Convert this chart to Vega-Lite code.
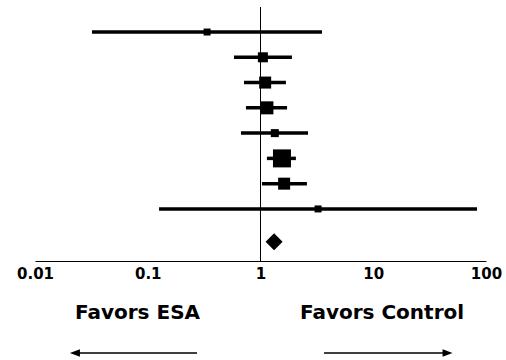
{
  "$schema": "https://vega.github.io/schema/vega-lite/v6.json",
  "autosize": {"type": "none"},
  "width": 451,
  "height": 254,
  "padding": {"left": 35, "top": 7, "right": 20, "bottom": 99},
  "background": "white",
  "config": {
    "view": {"stroke": null},
    "axis": {
      "domainColor": "black",
      "domainWidth": 1,
      "ticks": false,
      "grid": false,
      "labelFont": "DejaVu Sans",
      "labelFontWeight": "bold",
      "labelFontSize": 15,
      "labelColor": "black",
      "labelPadding": 5,
      "labelFlush": false,
      "labelOverlap": false,
      "labelBound": false
    }
  },
  "datasets": {
    "studies": [
      {"row": 1, "est": 0.336, "lo": 0.032, "hi": 3.51, "box": 49},
      {"row": 2, "est": 1.05, "lo": 0.582, "hi": 1.9, "box": 100},
      {"row": 3, "est": 1.1, "lo": 0.714, "hi": 1.68, "box": 144},
      {"row": 4, "est": 1.14, "lo": 0.743, "hi": 1.72, "box": 169},
      {"row": 5, "est": 1.34, "lo": 0.671, "hi": 2.64, "box": 64},
      {"row": 6, "est": 1.55, "lo": 1.14, "hi": 2.06, "box": 324},
      {"row": 7, "est": 1.62, "lo": 1.03, "hi": 2.58, "box": 144},
      {"row": 8, "est": 3.24, "lo": 0.126, "hi": 83.2, "box": 49}
    ],
    "pooled": [{"row": 9.3, "est": 1.32, "lo": 1.12, "hi": 1.58}],
    "labels": [
      {"x": 0.0811, "row": 12.11, "label": "Favors ESA"},
      {"x": 11.96, "row": 12.11, "label": "Favors Control"}
    ],
    "arrows": [
      {"from": 0.2735, "to": 0.0226, "row": 13.7, "dir": "left"},
      {"from": 3.66, "to": 45.6, "row": 13.7, "dir": "right"}
    ]
  },
  "layer": [
    {
      "data": {"values": [{"ref": 1}]},
      "mark": {"type": "rule", "color": "black", "strokeWidth": 1},
      "encoding": {
        "x": {"field": "ref", "type": "quantitative", "scale": {"type": "log", "domain": [0.01, 100]}, "axis": {"values": [0.01, 0.1, 1, 10, 100], "format": "~g", "title": null}}
      }
    },
    {
      "data": {"name": "studies"},
      "mark": {"type": "rule", "color": "black", "strokeWidth": 3.5},
      "encoding": {
        "x": {"field": "lo", "type": "quantitative", "scale": {"type": "log", "domain": [0.01, 100]}, "axis": {"values": [0.01, 0.1, 1, 10, 100], "format": "~g", "title": null}},
        "x2": {"field": "hi"},
        "y": {"field": "row", "type": "quantitative", "scale": {"domain": [0.01, 10.06], "reverse": true, "nice": false, "zero": false}, "axis": null}
      }
    },
    {
      "data": {"name": "studies"},
      "mark": {"type": "point", "shape": "square", "filled": true, "color": "black", "opacity": 1},
      "encoding": {
        "x": {"field": "est", "type": "quantitative", "scale": {"type": "log", "domain": [0.01, 100]}, "axis": {"values": [0.01, 0.1, 1, 10, 100], "format": "~g", "title": null}},
        "y": {"field": "row", "type": "quantitative", "scale": {"domain": [0.01, 10.06], "reverse": true, "nice": false, "zero": false}, "axis": null},
        "size": {"field": "box", "type": "quantitative", "scale": null, "legend": null}
      }
    },
    {
      "data": {"name": "pooled"},
      "mark": {"type": "point", "shape": "diamond", "filled": true, "color": "black", "opacity": 1, "size": 289},
      "encoding": {
        "x": {"field": "est", "type": "quantitative", "scale": {"type": "log", "domain": [0.01, 100]}, "axis": {"values": [0.01, 0.1, 1, 10, 100], "format": "~g", "title": null}},
        "y": {"field": "row", "type": "quantitative", "scale": {"domain": [0.01, 10.06], "reverse": true, "nice": false, "zero": false}, "axis": null}
      }
    },
    {
      "data": {"name": "labels"},
      "mark": {"type": "text", "font": "DejaVu Sans", "fontWeight": "bold", "fontSize": 20, "color": "black", "align": "center", "baseline": "middle"},
      "encoding": {
        "x": {"field": "x", "type": "quantitative", "scale": {"type": "log", "domain": [0.01, 100]}, "axis": {"values": [0.01, 0.1, 1, 10, 100], "format": "~g", "title": null}},
        "y": {"field": "row", "type": "quantitative", "scale": {"domain": [0.01, 10.06], "reverse": true, "nice": false, "zero": false}, "axis": null},
        "text": {"field": "label"}
      }
    },
    {
      "data": {"name": "arrows"},
      "mark": {"type": "rule", "color": "black", "strokeWidth": 1.5},
      "encoding": {
        "x": {"field": "from", "type": "quantitative", "scale": {"type": "log", "domain": [0.01, 100]}, "axis": {"values": [0.01, 0.1, 1, 10, 100], "format": "~g", "title": null}},
        "x2": {"field": "to"},
        "y": {"field": "row", "type": "quantitative", "scale": {"domain": [0.01, 10.06], "reverse": true, "nice": false, "zero": false}, "axis": null}
      }
    },
    {
      "data": {"name": "arrows"},
      "mark": {"type": "point", "filled": true, "color": "black", "opacity": 1, "size": 100},
      "encoding": {
        "x": {"field": "to", "type": "quantitative", "scale": {"type": "log", "domain": [0.01, 100]}, "axis": {"values": [0.01, 0.1, 1, 10, 100], "format": "~g", "title": null}},
        "y": {"field": "row", "type": "quantitative", "scale": {"domain": [0.01, 10.06], "reverse": true, "nice": false, "zero": false}, "axis": null},
        "shape": {"field": "dir", "type": "nominal", "scale": {"domain": ["left", "right"], "range": ["M-1,0L1,-0.75L1,0.75Z", "M1,0L-1,-0.75L-1,0.75Z"]}, "legend": null}
      }
    }
  ]
}
